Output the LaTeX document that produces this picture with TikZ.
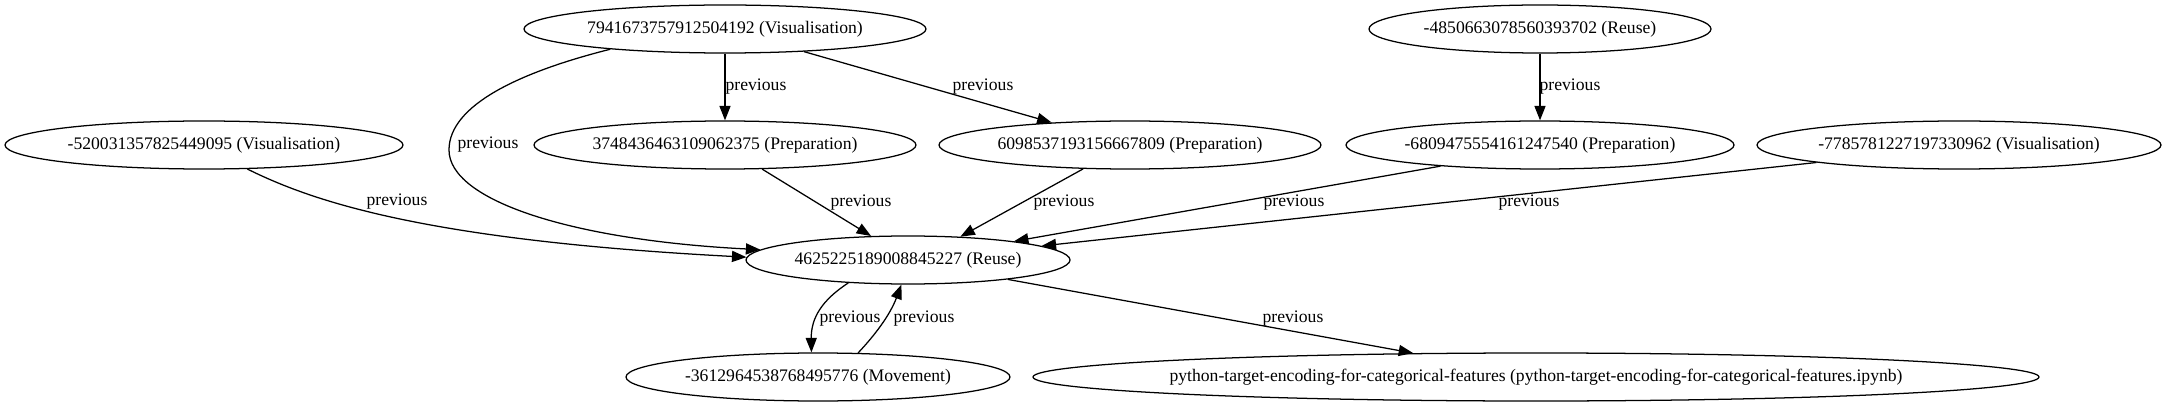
\documentclass[tikz,border=0pt]{standalone}
\usepackage{fontspec}
\setmainfont{Liberation Serif}
\usetikzlibrary{shapes.geometric,arrows.meta}
\newcommand\U{0.794pt}
\newcommand\nodetxt[1]{\makebox[0pt]{#1}}
\begin{document}
\begin{tikzpicture}[x=0.794pt,y=-0.794pt,
  nd/.style={ellipse,draw,line width=1pt,inner sep=0pt,minimum height=48*\U,font=\fontsize{14pt}{17pt}\selectfont},
  lbl/.style={inner sep=0pt,font=\fontsize{14pt}{17pt}\selectfont},
  edge/.style={draw,line width=1pt,-{Triangle[length=11.5pt,width=8.8pt]}}]
\useasboundingbox (0,0) rectangle (2167,407);
% nodes
\node[nd,minimum width=402*\U] (n1) at (725,29) {\nodetxt{7941673757912504192 (Visualisation)}};
\node[nd,minimum width=342*\U] (n2) at (1540,29) {\nodetxt{-4850663078560393702 (Reuse)}};
\node[nd,minimum width=398*\U] (n3) at (204,145) {\nodetxt{-520031357825449095 (Visualisation)}};
\node[nd,minimum width=382*\U] (n4) at (725,145) {\nodetxt{3748436463109062375 (Preparation)}};
\node[nd,minimum width=382*\U] (n5) at (1130,145) {\nodetxt{6098537193156667809 (Preparation)}};
\node[nd,minimum width=388*\U] (n6) at (1540,145) {\nodetxt{-6809475554161247540 (Preparation)}};
\node[nd,minimum width=404*\U] (n7) at (1959,145) {\nodetxt{-7785781227197330962 (Visualisation)}};
\node[nd,minimum width=324*\U] (n8) at (908,260) {\nodetxt{4625225189008845227 (Reuse)}};
\node[nd,minimum width=384*\U] (n9) at (818,377) {\nodetxt{-3612964538768495776 (Movement)}};
\node[nd,minimum width=1006*\U] (n10) at (1536,377) {\nodetxt{python-target-encoding-for-categorical-features (python-target-encoding-for-categorical-features.ipynb)}};
% waypoint
\coordinate (w1) at (449,150);
% edges
\path[edge] (n1.south) -- (n4.north);
\path[edge] (n1.-16) -- (n5.164);
\path[edge] (n1.190) .. controls (520,72) and (449,105) .. (w1) .. controls (449,200) and (570,240) .. (n8.176);
\path[edge] (n3.-29) .. controls (310,200) and (420,240) .. (n8.179);
\path[edge] (n4.-33) -- (n8.147);
\path[edge] (n5.207) -- (n8.24);
\path[edge] (n6.192) -- (n8.10);
\path[edge] (n7.187) -- (n8.6);
\path[edge] (n2.south) -- (n6.north);
\path[edge] (n8.201) .. controls (822,300) and (811,318) .. (n9.105);
\path[edge] (n9.31) .. controls (875,335) and (890,315) .. (n8.255);
\path[edge] (n8.-11) -- (n10.169);
% labels
\node[lbl] (l1) at (756,87) {previous};
\node[lbl] (l2) at (983,87) {previous};
\node[lbl] (l3) at (488,145) {previous};
\node[lbl] (l4) at (397,202) {previous};
\node[lbl] (l5) at (861,203) {previous};
\node[lbl] (l6) at (1064,203) {previous};
\node[lbl] (l7) at (1294,203) {previous};
\node[lbl] (l8) at (1529,203) {previous};
\node[lbl] (l9) at (1570,87) {previous};
\node[lbl] (l10) at (850,319) {previous};
\node[lbl] (l11) at (924,319) {previous};
\node[lbl] (l12) at (1293,319) {previous};
\end{tikzpicture}
\end{document}
